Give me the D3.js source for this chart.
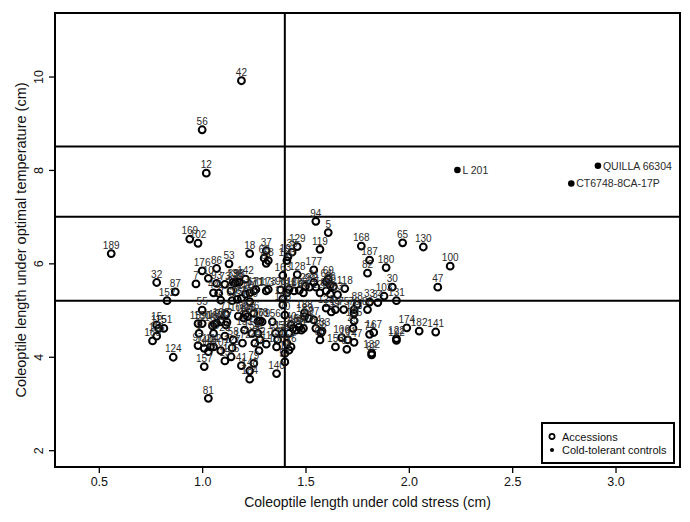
<!DOCTYPE html>
<html><head><meta charset="utf-8">
<script src="https://cdn.jsdelivr.net/npm/d3@7"></script>
<style>body{margin:0;background:#fff}svg{display:block}</style>
</head><body><svg id="c" width="690" height="522"></svg>
<script>
const accessionIds = [42,56,12,94,5,189,169,102,129,119,168,65,130,187,180,100,82,18,37,53,176,86,32,87,152,7,30,47,103,131,33,34,88,174,182,141,122,192,167,74,132,92,81,124,157,140,41,148,79,184,
15,115,151,116,160,55,159,150,9,97,144,104,112,107,110,13,105,127,28,98,93,10,44,4,2,73,39,36,38,136,23,62,67,120,121,170,142,171,60,63,61,113,173,96,117,126,70,156,178,179,
26,25,108,46,71,17,77,153,154,20,21,22,11,24,135,137,138,172,58,163,128,190,191,35,177,181,111,186,89,29,99,3,31,125,64,69,66,6,85,8,83,118,188,183,59,123,139,19,75,76,
80,143,185,45,40,43,49,50,51,52,54,27,84,68,90,106,101,147,155,91,114,1,14,16,57,134,162,164,165,166,95,109,146,145,72,133,175];
const coldX = [1.19,1.00,1.02,1.55,1.61,0.56,0.94,0.98,1.46,1.57,1.77,1.97,2.07,1.81,1.89,2.20,1.80,1.23,1.31,1.13,1.00,1.07,0.78,0.87,0.83,0.97,1.92,2.14,1.88,1.94,1.81,1.85,1.75,1.99,2.05,2.13,1.94,1.94,1.83,1.81,1.82,1.82,1.03,0.86,1.01,1.36,1.19,1.23,1.25,1.23,
0.78,0.79,0.815,0.78,0.76,1.00,0.98,1.00,0.985,0.98,1.01,1.04,1.055,1.09,1.03,1.11,1.14,1.145,1.11,1.055,1.07,1.03,1.055,1.08,1.09,1.11,1.15,1.17,1.18,1.16,1.14,1.145,1.19,1.21,1.23,1.25,1.21,1.26,1.30,1.32,1.31,1.31,1.32,1.38,1.39,1.39,1.40,1.34,1.28,1.29,
1.27,1.21,1.175,1.25,1.115,1.115,1.12,1.205,1.24,1.255,1.27,1.28,1.31,1.275,1.355,1.365,1.36,1.195,1.15,1.39,1.46,1.41,1.415,1.435,1.54,1.41,1.42,1.445,1.49,1.50,1.52,1.55,1.54,1.57,1.60,1.61,1.62,1.635,1.60,1.62,1.655,1.69,1.495,1.495,1.515,1.60,1.625,1.645,1.685,1.735,
1.80,1.735,1.735,1.73,1.43,1.44,1.455,1.47,1.48,1.49,1.42,1.54,1.55,1.575,1.57,1.675,1.705,1.735,1.645,1.70,1.41,1.42,1.40,1.43,1.40,1.39,1.06,1.07,1.05,1.09,1.17,1.23,1.22,1.20,1.09,1.58,1.47];
const optimalY = [9.91,8.86,7.93,6.90,6.66,6.21,6.52,6.43,6.36,6.30,6.37,6.44,6.35,6.07,5.91,5.94,5.79,6.21,6.27,5.99,5.84,5.89,5.59,5.39,5.20,5.56,5.49,5.49,5.30,5.20,5.17,5.16,5.12,4.62,4.55,4.53,4.39,4.35,4.52,4.48,4.08,4.04,3.11,3.99,3.79,3.64,3.81,3.70,3.86,3.52,
4.68,4.61,4.61,4.44,4.34,5.00,4.71,4.71,4.50,4.24,4.18,4.21,4.21,4.13,4.11,3.91,4.00,4.19,4.44,4.50,5.57,5.68,5.37,5.36,5.21,5.55,5.60,5.61,5.60,5.58,5.41,5.20,5.25,5.34,5.37,5.41,5.66,5.44,6.11,6.06,6.00,5.41,5.44,5.43,5.24,5.11,4.89,4.75,4.77,4.75,
4.76,4.91,4.87,4.93,4.91,4.68,4.74,4.57,4.50,4.29,4.50,4.36,4.27,4.13,4.50,4.36,4.21,4.29,4.36,5.74,5.76,6.06,6.14,6.24,5.86,5.37,5.44,5.41,5.37,5.51,5.49,5.49,5.59,5.37,5.61,5.66,5.54,5.50,5.41,5.34,5.33,5.46,4.94,4.86,4.82,5.04,4.96,5.01,5.01,5.01,
5.01,4.93,4.77,4.61,4.68,4.61,4.57,4.64,4.57,4.61,4.50,4.79,4.61,4.51,4.36,4.41,4.36,4.31,4.21,4.16,4.29,4.14,4.07,4.21,3.89,4.50,4.70,4.72,4.66,4.78,5.23,5.18,4.86,4.83,4.75,4.55,5.42];
const controlNames = ["L 201","QUILLA 66304","CT6748-8CA-17P"];
const controlX = [2.235,2.915,2.786];
const controlY = [8.00,8.09,7.71];
const xTicks = [0.5,1.0,1.5,2.0,2.5,3.0];
const yTicks = [2,4,6,8,10];
const refX = [1.4];
const refY = [5.2,7.0,8.5];
const legendLabels = ["Accessions","Cold-tolerant controls"];

const L=55,R=680,T=13,B=467;
const font="'Liberation Sans', Arial, sans-serif";
const svg=d3.select("#c");
const x=d3.scaleLinear().domain([0.288,3.312]).range([L,R]);
const y=d3.scaleLinear().domain([1.64,11.36]).range([B,T]);

// axes
const gx=svg.append("g").attr("transform",`translate(0,${B})`)
  .call(d3.axisBottom(x).tickValues(xTicks).tickFormat(d3.format(".1f")).tickSize(6).tickPadding(4));
gx.select(".domain").remove();
gx.selectAll("line").attr("stroke","#000").attr("stroke-width",1.3);
gx.selectAll("text").attr("font-family",font).attr("font-size",12.5).attr("fill","#111");

const gy=svg.append("g").attr("transform",`translate(${L},0)`)
  .call(d3.axisLeft(y).tickValues(yTicks).tickSize(6).tickPadding(4));
gy.select(".domain").remove();
gy.selectAll("line").attr("stroke","#000").attr("stroke-width",1.3);
gy.selectAll("text").attr("font-family",font).attr("font-size",12.5).attr("fill","#111")
  .attr("text-anchor","middle").attr("dy",null).attr("x",null)
  .attr("transform","translate(-16,0) rotate(-90)").attr("dominant-baseline","central");

// reference lines
svg.selectAll(".rx").data(refX).join("line").attr("x1",d=>x(d)).attr("x2",d=>x(d)).attr("y1",T).attr("y2",B)
  .attr("stroke","#000").attr("stroke-width",2);
svg.selectAll(".ry").data(refY).join("line").attr("x1",L).attr("x2",R).attr("y1",d=>y(d)).attr("y2",d=>y(d))
  .attr("stroke","#000").attr("stroke-width",2);

// points
const pts=accessionIds.map((id,i)=>({id,x:coldX[i],y:optimalY[i]}));
svg.append("g").selectAll("circle").data(pts).join("circle")
  .attr("cx",d=>x(d.x)).attr("cy",d=>y(d.y)).attr("r",3.4)
  .attr("fill","none").attr("stroke","#000").attr("stroke-width",2);
svg.append("g").selectAll("text").data(pts).join("text")
  .attr("x",d=>x(d.x)).attr("y",d=>y(d.y)-4.8).attr("text-anchor","middle")
  .attr("font-family",font).attr("font-size",10).attr("fill","#2a2a2a").text(d=>d.id);

const ctr=controlNames.map((n,i)=>({n,x:controlX[i],y:controlY[i]}));
svg.append("g").selectAll("circle").data(ctr).join("circle")
  .attr("cx",d=>x(d.x)).attr("cy",d=>y(d.y)).attr("r",3.3).attr("fill","#000");
svg.append("g").selectAll("text").data(ctr).join("text")
  .attr("x",d=>x(d.x)+5).attr("y",d=>y(d.y)).attr("dominant-baseline","central")
  .attr("font-family",font).attr("font-size",10.5).attr("fill","#2a2a2a").text(d=>d.n);

// box
svg.append("rect").attr("x",L).attr("y",T).attr("width",R-L).attr("height",B-T)
  .attr("fill","none").attr("stroke","#000").attr("stroke-width",2);

// axis titles
svg.append("text").attr("x",(L+R)/2).attr("y",507).attr("text-anchor","middle")
  .attr("font-family",font).attr("font-size",14).attr("fill","#111").text("Coleoptile length under cold stress (cm)");
svg.append("text").attr("transform",`translate(21,${(T+B)/2}) rotate(-90)`).attr("text-anchor","middle")
  .attr("dominant-baseline","central")
  .attr("font-family",font).attr("font-size",14.5).attr("fill","#111").text("Coleoptile length under optimal temperature (cm)");

// legend
const lg=svg.append("g");
lg.append("rect").attr("x",542).attr("y",423).attr("width",132).attr("height",40)
  .attr("fill","#fff").attr("stroke","#000").attr("stroke-width",2);
lg.append("circle").attr("cx",552).attr("cy",436.5).attr("r",2.6).attr("fill","none").attr("stroke","#000").attr("stroke-width",1.7);
lg.append("circle").attr("cx",552).attr("cy",450).attr("r",2).attr("fill","#000");
lg.selectAll("text").data(legendLabels).join("text").attr("x",562).attr("y",(d,i)=>436.5+i*13.5)
  .attr("dominant-baseline","central").attr("font-family",font).attr("font-size",11).attr("fill","#111").text(d=>d);
</script></body></html>
